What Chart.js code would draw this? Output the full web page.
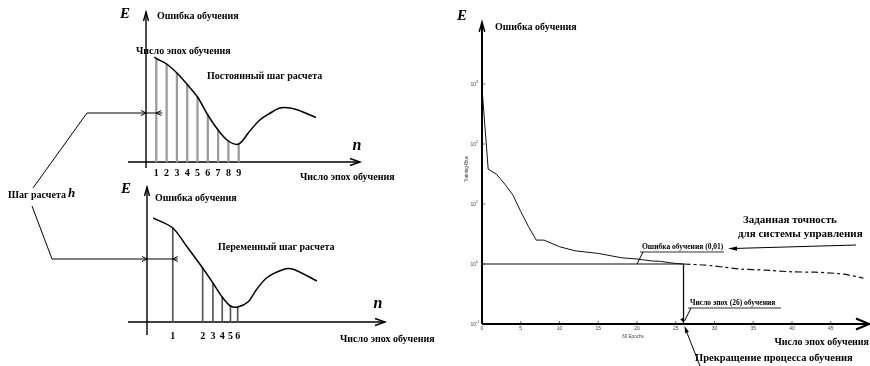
<!DOCTYPE html>
<html>
<head>
<meta charset="utf-8">
<script src="https://cdn.jsdelivr.net/npm/chart.js@4.4.0/dist/chart.umd.min.js"></script>
<style>
  html, body { margin: 0; padding: 0; background: #fff; }
  #wrap { position: relative; width: 870px; height: 366px; overflow: hidden; }
  #wrap canvas { position: absolute; left: 0; top: 0; }
</style>
</head>
<body>
<div id="wrap">
  <canvas id="constStep" width="870" height="366"></canvas>
  <canvas id="varStep" width="870" height="366"></canvas>
  <canvas id="training" width="870" height="366"></canvas>
</div>
<script>
// ------------------ DATA ------------------
// Constant step (top left): error E against step number n
const constStepN = [1, 2, 3, 4, 5, 6, 7, 8, 9];
const constStepE = [10.35, 9.8, 8.9, 7.75, 6.5, 4.7, 3.2, 2.1, 1.8];
const constStepLabels = ["1", "2", "3", "4", "5", "6", "7", "8", "9"];
const constCurveN = [0.8, 1, 2, 3, 4, 5, 6, 7, 8, 9, 10, 11, 12, 13, 14, 15, 16.5];
const constCurveE = [10.5, 10.35, 9.8, 8.9, 7.75, 6.5, 4.7, 3.2, 2.1, 1.8, 3.0, 4.15, 4.85, 5.4, 5.4, 5.1, 4.45];
const constHLevel = 4.9;

// Variable step (bottom left)
const varStepT = [2.5, 5.4, 6.4, 7.3, 8.1, 8.8];
const varStepE = [9.4, 5.4, 3.9, 2.5, 1.6, 1.5];
const varStepLabels = ["1", "2", "3", "4", "5", "6"];
const varCurveT = [0.6, 2.5, 3.9, 5.4, 6.4, 7.3, 8.1, 8.8, 9.8, 10.6, 11.6, 13.1, 14.1, 16.5];
const varCurveE = [10.4, 9.4, 7.5, 5.4, 3.9, 2.5, 1.6, 1.5, 2.0, 3.2, 4.4, 5.2, 5.3, 4.1];
const varHLevel = 6.3;

// Training record (right)
const trainEpochs = [0, 0.8, 1.9, 3, 4, 5, 6, 7, 8, 10, 12, 15, 18, 20, 22, 23, 24, 25, 26];
const trainError = [850, 38, 31, 21, 14, 7.5, 4.2, 2.5, 2.5, 1.94, 1.66, 1.5, 1.27, 1.21, 1.12, 1.11, 1.06, 1.02, 1.0];
const extEpochs = [26, 28.8, 31.4, 33.5, 36.5, 40, 43, 45.5, 47.2, 49.2];
const extError = [1.0, 0.96, 0.88, 0.82, 0.79, 0.74, 0.73, 0.70, 0.66, 0.58];
const goalError = 1.0;
const stopEpoch = 26;
const epochTicks = [0, 5, 10, 15, 20, 25, 30, 35, 40, 45];
const errorTicks = [0.1, 1, 10, 100, 1000];
const errorTickExp = ["-1", "0", "1", "2", "3"];

// ------------------ HELPERS ------------------
const SERIF = '"Liberation Serif", "DejaVu Serif", serif';
const SANS = '"Liberation Sans", "DejaVu Sans", sans-serif';

function drawText(ctx, str, x, y, font, align, color) {
    ctx.font = font;
    ctx.fillStyle = color || "#000";
    ctx.textAlign = align || "left";
    ctx.textBaseline = "middle";
    ctx.fillText(str, x, y);
}

function drawLine(ctx, pts, width, color) {
    ctx.beginPath();
    ctx.lineWidth = width;
    ctx.strokeStyle = color || "#000";
    ctx.moveTo(pts[0][0], pts[0][1]);
    for (let i = 1; i < pts.length; i++) ctx.lineTo(pts[i][0], pts[i][1]);
    ctx.stroke();
}

// tip at (x, y), pointing along angle
function drawHead(ctx, x, y, ang, len, half, width, fill) {
    const bx = x - len * Math.cos(ang), by = y - len * Math.sin(ang);
    const px = -Math.sin(ang) * half, py = Math.cos(ang) * half;
    ctx.beginPath();
    ctx.lineWidth = width;
    ctx.strokeStyle = "#000";
    ctx.fillStyle = "#000";
    ctx.moveTo(bx + px, by + py);
    ctx.lineTo(x, y);
    ctx.lineTo(bx - px, by - py);
    if (fill) { ctx.closePath(); ctx.fill(); } else ctx.stroke();
}

function points(xs, ys) {
    return xs.map((v, i) => ({ x: v, y: ys[i] }));
}

function hiddenLinear(min, max, tickVals, tickLabels) {
    return {
        type: "linear", display: false, bounds: "data", offset: false, min: min, max: max,
        afterBuildTicks: tickVals ? (s) => { s.ticks = tickVals.map(v => ({ value: v })); } : undefined,
        ticks: { callback: tickLabels ? (v, i) => tickLabels[i] : undefined }
    };
}

const baseOptions = (padding) => ({
    responsive: false,
    animation: false,
    devicePixelRatio: 1,
    layout: { padding: padding },
    plugins: { legend: { display: false }, tooltip: { enabled: false } },
    elements: { point: { radius: 0 } }
});

// axes with arrows crossing at data (0,0) of a step chart
function drawCrossAxes(chart) {
    const { ctx, chartArea: a, scales: { x, y } } = chart;
    const x0 = x.getPixelForValue(0), y0 = y.getPixelForValue(0);
    ctx.save();
    drawLine(ctx, [[a.left, y0], [a.right, y0]], 1.4);
    drawLine(ctx, [[x0, a.bottom], [x0, a.top]], 1.4);
    drawHead(ctx, a.right, y0, 0, 10, 3.5, 1.4, false);
    drawHead(ctx, x0, a.top, -Math.PI / 2, 9, 2.5, 1.4, false);
    ctx.restore();
}

function drawStepTicks(chart, yPix) {
    const { ctx, scales: { x } } = chart;
    x.ticks.forEach(t => {
        drawText(ctx, t.label, x.getPixelForValue(t.value), yPix, "bold 10px " + SERIF, "center");
    });
}

// ------------------ TOP LEFT: constant step ------------------
const constDecor = {
    id: "constDecor",
    beforeDatasetsDraw(chart) { drawCrossAxes(chart); },
    afterDatasetsDraw(chart) {
        const { ctx, scales: { x, y } } = chart;
        ctx.save();
        drawText(ctx, "E", 125, 14, "bold italic 15px " + SERIF, "center");
        drawText(ctx, "Ошибка обучения", 157, 16, "bold 10px " + SERIF);
        drawText(ctx, "Число эпох обучения", 136, 51, "bold 10px " + SERIF);
        drawText(ctx, "Постоянный шаг расчета", 207, 76, "bold 10px " + SERIF);
        drawText(ctx, "n", 357, 146, "bold italic 16px " + SERIF, "center");
        drawText(ctx, "Число эпох обучения", 300, 177, "bold 10px " + SERIF);
        drawStepTicks(chart, 173);
        // step h dimension
        const hy = y.getPixelForValue(constHLevel);
        const xa = x.getPixelForValue(0), xb = x.getPixelForValue(constStepN[0]);
        drawLine(ctx, [[33, 188], [87, hy], [xb + 6, hy]], 1);
        drawHead(ctx, xa, hy, 0, 5, 2.5, 1, false);
        drawHead(ctx, xb, hy, Math.PI, 5, 2.5, 1, false);
        ctx.restore();
    }
};

new Chart(document.getElementById("constStep"), {
    type: "line",
    data: {
        datasets: [
            {
                type: "bar", data: points(constStepN, constStepE), order: 2,
                backgroundColor: "#9a9a9a", barThickness: 1.6
            },
            {
                data: points(constCurveN, constCurveE), order: 1,
                borderColor: "#000", borderWidth: 1.5, tension: 0.35, fill: false
            }
        ]
    },
    options: Object.assign(baseOptions({ left: 128, right: 510, top: 12, bottom: 198 }), {
        scales: {
            x: hiddenLinear(-1.75, 20.78, constStepN, constStepLabels),
            y: hiddenLinear(-0.6, 15)
        }
    }),
    plugins: [constDecor]
});

// ------------------ BOTTOM LEFT: variable step ------------------
const varDecor = {
    id: "varDecor",
    beforeDatasetsDraw(chart) { drawCrossAxes(chart); },
    afterDatasetsDraw(chart) {
        const { ctx, scales: { x, y } } = chart;
        ctx.save();
        drawText(ctx, "E", 126, 189, "bold italic 15px " + SERIF, "center");
        drawText(ctx, "Ошибка обучения", 155, 198, "bold 10px " + SERIF);
        drawText(ctx, "Переменный шаг расчета", 218, 247, "bold 10px " + SERIF);
        drawText(ctx, "n", 378, 304, "bold italic 16px " + SERIF, "center");
        drawText(ctx, "Число эпох обучения", 340, 339, "bold 10px " + SERIF);
        drawStepTicks(chart, 336);
        drawText(ctx, "Шаг расчета", 8, 195, "bold 10px " + SERIF);
        drawText(ctx, "h", 68, 194, "bold italic 13px " + SERIF);
        const hy = y.getPixelForValue(varHLevel);
        const xa = x.getPixelForValue(0), xb = x.getPixelForValue(varStepT[0]);
        drawLine(ctx, [[32, 206], [52, hy], [xb + 5, hy]], 1);
        drawHead(ctx, xa, hy, 0, 5, 2.5, 1, false);
        drawHead(ctx, xb, hy, Math.PI, 5, 2.5, 1, false);
        ctx.restore();
    }
};

new Chart(document.getElementById("varStep"), {
    type: "line",
    data: {
        datasets: [
            {
                type: "bar", data: points(varStepT, varStepE), order: 2,
                backgroundColor: "#555", barThickness: 1
            },
            {
                data: points(varCurveT, varCurveE), order: 1,
                borderColor: "#000", borderWidth: 1.5, tension: 0.3, fill: false
            }
        ]
    },
    options: Object.assign(baseOptions({ left: 128, right: 485, top: 187, bottom: 31 }), {
        scales: {
            x: hiddenLinear(-1.845, 23.1, varStepT, varStepLabels),
            y: hiddenLinear(-1.3, 13.5)
        }
    }),
    plugins: [varDecor]
});

// ------------------ RIGHT: training record ------------------
const trainDecor = {
    id: "trainDecor",
    beforeDatasetsDraw(chart) {
        const { ctx, chartArea: a, scales: { x, y } } = chart;
        ctx.save();
        // tick marks and tiny matlab-like labels
        x.ticks.forEach(t => {
            const px = x.getPixelForValue(t.value);
            drawLine(ctx, [[px, a.bottom], [px, a.bottom - 3]], 0.8, "#444");
            drawText(ctx, t.label, px, a.bottom + 5, "5px " + SANS, "center", "#444");
        });
        y.ticks.forEach(t => {
            const py = y.getPixelForValue(t.value);
            drawLine(ctx, [[a.left, py], [a.left + 3, py]], 0.8, "#444");
            drawText(ctx, "10", a.left - 6, py + 1, "5px " + SANS, "right", "#444");
            drawText(ctx, t.label, a.left - 6, py - 2, "3.5px " + SANS, "left", "#444");
        });
        drawText(ctx, "60 Epochs", 633, 337, "4.5px " + SANS, "center", "#444");
        ctx.translate(467, 169);
        ctx.rotate(-Math.PI / 2);
        drawText(ctx, "Training-Blue", 0, 0, "4.5px " + SANS, "center", "#444");
        ctx.restore();
    },
    afterDatasetsDraw(chart) {
        const { ctx, chartArea: a, scales: { x, y } } = chart;
        const xs = x.getPixelForValue(stopEpoch), yg = y.getPixelForValue(goalError);
        ctx.save();
        // axes
        drawLine(ctx, [[a.left, a.bottom], [a.left, a.top + 2]], 2);
        drawHead(ctx, a.left, a.top, -Math.PI / 2, 10, 2.8, 1.5, false);
        drawLine(ctx, [[a.left, a.bottom], [a.right - 1, a.bottom]], 2);
        drawHead(ctx, a.right - 1, a.bottom, 0, 13, 5.5, 2, false);
        // titles
        drawText(ctx, "E", 462, 16, "bold italic 15px " + SERIF, "center");
        drawText(ctx, "Ошибка обучения", 495, 27, "bold 10px " + SERIF);
        drawText(ctx, "Заданная точность", 743, 220, "bold 11px " + SERIF);
        drawText(ctx, "для системы управления", 738, 234, "bold 11px " + SERIF);
        drawLine(ctx, [[856, 245], [733, 248.5]], 1);
        drawHead(ctx, 728, 248.6, Math.PI, 9, 2.2, 1, true);
        // goal label
        drawText(ctx, "Ошибка обучения (0,01)", 642, 247, "bold 7.5px " + SERIF);
        drawLine(ctx, [[640, 252], [724, 252]], 1, "#333");
        drawLine(ctx, [[643, 252], [637, yg]], 1);
        // epochs label
        drawText(ctx, "Число эпох (26) обучения", 690, 303, "bold 7.5px " + SERIF);
        drawLine(ctx, [[688, 308], [781, 308]], 1, "#333");
        drawLine(ctx, [[691, 308], [xs + 1, a.bottom - 3]], 1);
        drawHead(ctx, xs + 0.5, a.bottom - 1, Math.atan2(308 - a.bottom, xs - 691) + Math.PI, 5, 1.8, 1, true);
        // stop label
        drawText(ctx, "Число эпох обучения", 869, 342, "bold 10px " + SERIF, "right");
        drawText(ctx, "Прекращение процесса обучения", 695, 358, "bold 10.5px " + SERIF);
        drawLine(ctx, [[700, 366], [xs + 2, a.bottom + 5]], 1);
        drawHead(ctx, xs + 1, a.bottom + 2, Math.atan2(a.bottom + 2 - 366, xs + 1 - 700), 7, 2, 1, true);
        ctx.restore();
    }
};

new Chart(document.getElementById("training"), {
    type: "line",
    data: {
        datasets: [
            { data: points(trainEpochs, trainError), borderColor: "#111", borderWidth: 1, tension: 0 },
            { data: points(extEpochs, extError), borderColor: "#111", borderWidth: 1.2, borderDash: [7, 3, 3, 3], tension: 0.2 },
            { data: points([0, stopEpoch], [goalError, goalError]), borderColor: "#111", borderWidth: 1.1 },
            { data: points([stopEpoch, stopEpoch], [goalError, errorTicks[0]]), borderColor: "#111", borderWidth: 1.3 }
        ]
    },
    options: Object.assign(baseOptions({ left: 482, right: 0, top: 22, bottom: 42 }), {
        scales: {
            x: hiddenLinear(0, 50.06, epochTicks),
            y: {
                type: "logarithmic", display: false, bounds: "data", min: 0.1, max: 10790,
                afterBuildTicks: (s) => { s.ticks = errorTicks.map(v => ({ value: v })); },
                ticks: { callback: (v, i) => errorTickExp[i] }
            }
        }
    }),
    plugins: [trainDecor]
});
</script>
</body>
</html>
